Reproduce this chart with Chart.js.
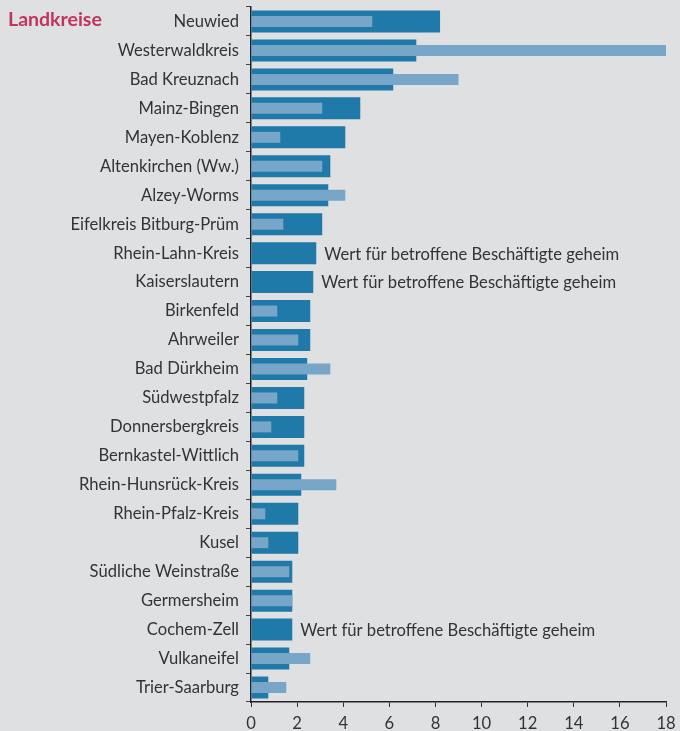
<!DOCTYPE html>
<html>
<head>
<meta charset="utf-8">
<script src="https://cdn.jsdelivr.net/npm/chart.js@4/dist/chart.umd.min.js"></script>
<style>
  html, body { margin: 0; padding: 0; background: #dfe0e2; }
  #wrap { position: relative; width: 680px; height: 731px; }
</style>
</head>
<body>
<div id="wrap"><canvas id="chart"></canvas></div>
<script>
// categories (top to bottom)
var kreise = [
  'Neuwied', 'Westerwaldkreis', 'Bad Kreuznach', 'Mainz-Bingen', 'Mayen-Koblenz',
  'Altenkirchen (Ww.)', 'Alzey-Worms', 'Eifelkreis Bitburg-Prüm', 'Rhein-Lahn-Kreis',
  'Kaiserslautern', 'Birkenfeld', 'Ahrweiler', 'Bad Dürkheim', 'Südwestpfalz',
  'Donnersbergkreis', 'Bernkastel-Wittlich', 'Rhein-Hunsrück-Kreis', 'Rhein-Pfalz-Kreis',
  'Kusel', 'Südliche Weinstraße', 'Germersheim', 'Cochem-Zell', 'Vulkaneifel', 'Trier-Saarburg'
]
// wide dark bars
var darkValues = [
  8.2, 7.17, 6.17, 4.74, 4.09, 3.44, 3.35, 3.09, 2.83, 2.7, 2.57, 2.57,
  2.44, 2.31, 2.31, 2.31, 2.18, 2.05, 2.05, 1.79, 1.79, 1.79, 1.66, 0.75
]
// narrow light bars (null = geheim)
var lightValues = [
  5.26, 18.0, 9.0, 3.09, 1.27, 3.09, 4.09, 1.4, null, null, 1.14, 2.05,
  3.44, 1.14, 0.88, 2.05, 3.7, 0.62, 0.75, 1.66, 1.79, null, 2.57, 1.53
]
var xTicks = [0, 2, 4, 6, 8, 10, 12, 14, 16, 18]
var titleText = 'Landkreise'
var secretText = 'Wert für betroffene Beschäftigte geheim'

var FONT = 'Lato, "Noto Sans", sans-serif'
var TEXT = '#333333'

// draws the title and the "geheim" notes
var notesPlugin = {
  id: 'notes',
  afterDatasetsDraw: function (chart) {
    var ctx = chart.ctx
    var xs = chart.scales.x
    var ys = chart.scales.y
    ctx.save()
    ctx.fillStyle = '#c2335d'
    ctx.font = 'bold 19.5px ' + FONT
    ctx.textAlign = 'left'
    ctx.textBaseline = 'middle'
    ctx.fillText(titleText, 8, 20)
    ctx.fillStyle = TEXT
    ctx.font = '16.6px ' + FONT
    lightValues.forEach(function (v, i) {
      if (v === null) {
        ctx.fillText(secretText, xs.getPixelForValue(darkValues[i]) + 8, ys.getPixelForValue(i) + 1)
      }
    })
    ctx.restore()
  }
}

var ctx = document.getElementById('chart').getContext('2d')
var myChart = new Chart(ctx, {
  type: 'bar',
  data: {
    labels: kreise,
    datasets: [
      {
        label: 'light',
        data: lightValues,
        backgroundColor: '#77a6c9',
        grouped: false,
        categoryPercentage: 1,
        barPercentage: 0.38,
        order: 1
      },
      {
        label: 'dark',
        data: darkValues,
        backgroundColor: '#1f79a9',
        grouped: false,
        categoryPercentage: 1,
        barPercentage: 0.76,
        order: 2
      }
    ]
  },
  options: {
    indexAxis: 'y',
    responsive: true,
    maintainAspectRatio: false,
    animation: false,
    events: [],
    layout: { padding: { top: 7, right: 14, left: 0, bottom: 0 } },
    plugins: {
      legend: { display: false },
      tooltip: { enabled: false }
    },
    scales: {
      x: {
        min: 0,
        max: 18,
        afterBuildTicks: function (axis) {
          axis.ticks = xTicks.map(function (v) { return { value: v } })
        },
        afterFit: function (axis) {
          axis.height = 29
          axis.paddingRight = 0
        },
        grid: { drawOnChartArea: false, tickLength: 5, color: '#333', lineWidth: 1 },
        border: { color: '#222', width: 1.5 },
        ticks: { color: TEXT, font: { family: FONT, size: 16.6 }, padding: 7 }
      },
      y: {
        afterFit: function (axis) {
          axis.width = 251
          axis.paddingTop = 0
          axis.paddingBottom = 0
        },
        grid: { drawOnChartArea: false, tickLength: 5, color: '#444', lineWidth: 1, offset: true },
        border: { color: '#222', width: 1.5 },
        ticks: { color: TEXT, font: { family: FONT, size: 16.6 }, padding: 7, autoSkip: false }
      }
    }
  },
  plugins: [notesPlugin]
})
</script>
</body>
</html>
